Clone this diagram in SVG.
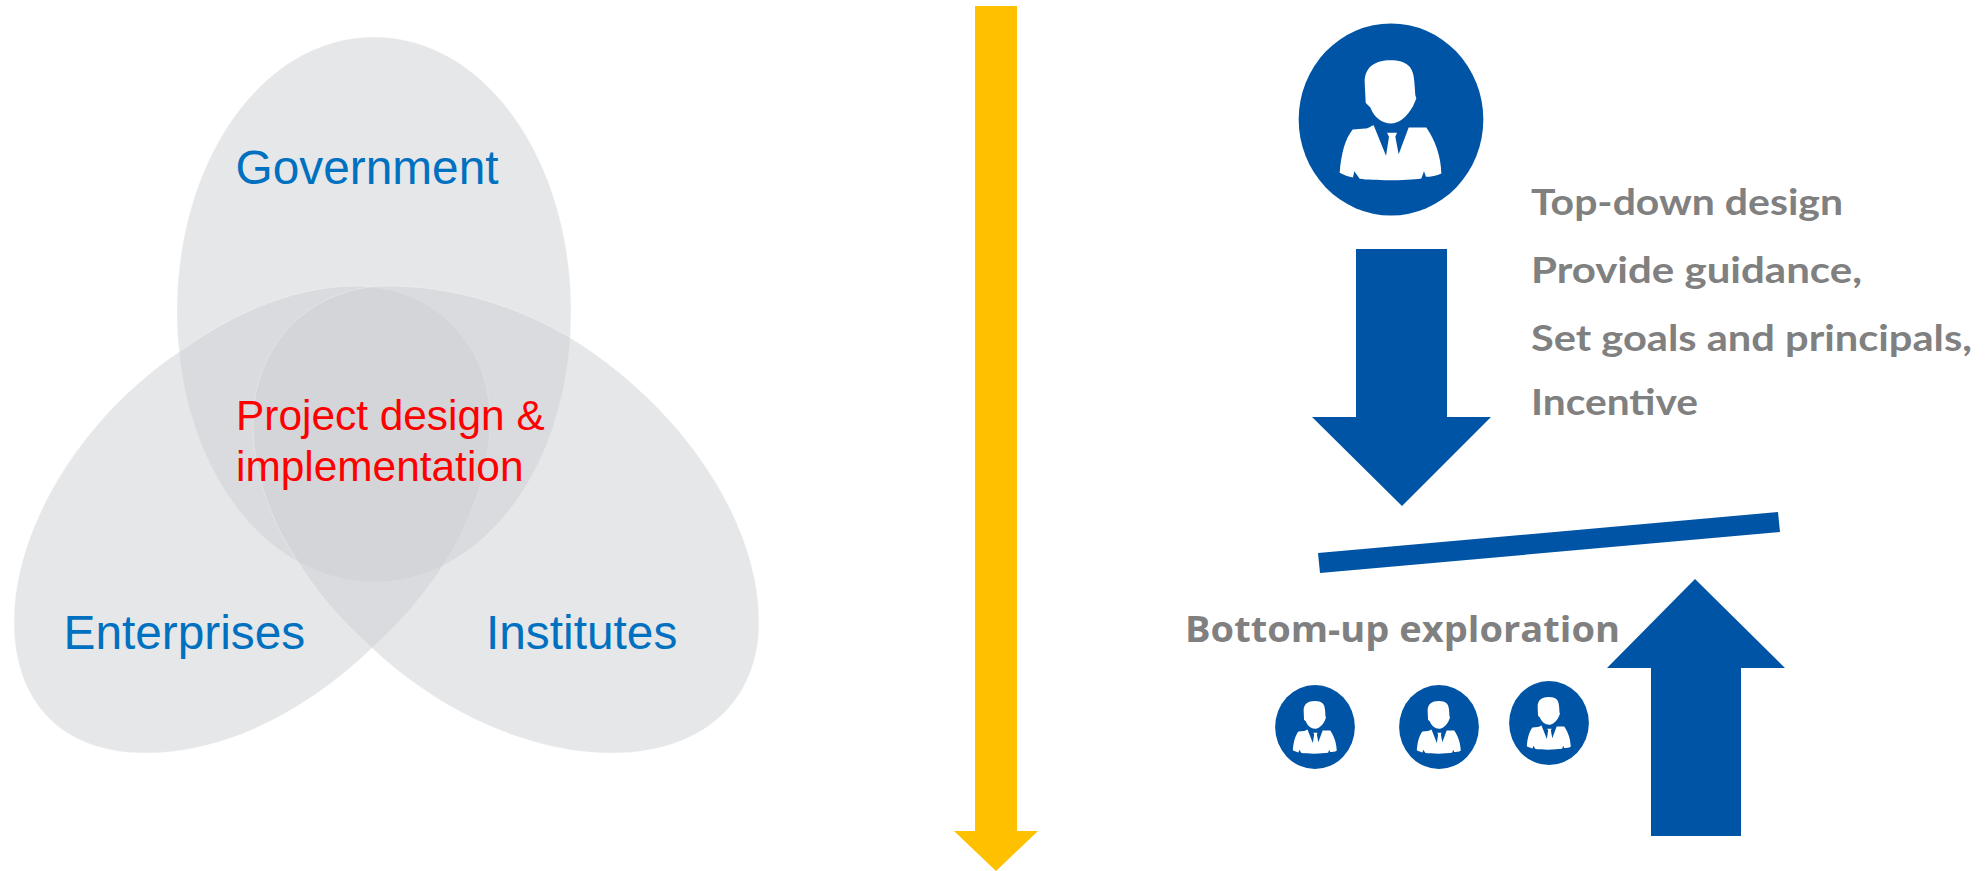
<svg xmlns="http://www.w3.org/2000/svg" width="1987" height="871" viewBox="0 0 1987 871">
<style>
.petal{fill:#cdd0d3;fill-opacity:.5;stroke:#fff;stroke-opacity:.3;stroke-width:1}
.lbl{font-family:"Liberation Sans",Arial,sans-serif;font-size:47.8px;fill:#0070c0}
.red{font-family:"Liberation Sans",Arial,sans-serif;font-size:42.4px;fill:#f00}
.blue{fill:#0054a5}
.note{font-family:Lato,"Liberation Sans",sans-serif;font-weight:700;font-size:36px;fill:#808080}
.note2{font-family:"Open Sans","Liberation Sans",sans-serif;font-weight:700;font-size:36px;fill:#808080}
</style>
<defs>
<g id="person"><ellipse rx="277" ry="288" class="blue"/><g fill="#fff" transform="translate(-332,-328)">
<path d="M253 215C253 170 285 150 330 150C380 150 400 170 402 215L405 255L408 265L398 288C380 320 355 340 332 340C305 340 280 320 270 292L256 278Z"/>
<path d="M178 488C182 430 195 385 217 358L255 355C265 355 275 345 280 345L317 437L326 380L320 368H350L345 380L355 432L385 352H438C465 390 482 440 483 490C470 497 450 500 437 500L431 483L423 505C380 512 280 512 238 506L222 483L218 502C205 500 190 495 178 488Z"/>
</g></g>
</defs>
<g id="venn">
<g id="government"><path class="petal" d="M374 37C485 37 571 160 571 311C571 470 480 582 374 582C268 582 177 470 177 311C177 160 263 37 374 37Z"/></g>
<g id="enterprises"><path class="petal" d="M357 286C430 286 490 340 490 420C490 470 470 525 444 564C422 598 397 625 372 648C305 712 225 753 145 753C60 753 14 700 14 622C14 525 85 415 179 352C235 312 295 286 357 286Z"/></g>
<g id="institutes"><path class="petal" d="M388 286C452 286 515 305 569 337C680 405 759 520 759 622C759 700 704 753 612 753C530 753 440 712 372 648C340 620 315 590 296 559C268 515 253 470 253 423C253 345 310 286 388 286Z"/></g>
<text class="lbl" x="235.500" y="184">Government</text>
<text class="lbl" x="63.500" y="649">Enterprises</text>
<text class="lbl" x="486" y="649">Institutes</text>
<text class="red" x="236" y="430">Project design &amp;</text>
<text class="red" x="236" y="481">implementation</text>
</g>
<g id="connectors">
<path id="timeline" fill="#ffc000" d="M975 6H1017V831H1038L996 871L954 831H975Z"/>
<path id="down" class="blue" d="M1356 249H1447V417H1491L1402 506L1312 417H1356Z"/>
<path id="up" class="blue" d="M1695 579L1785 668H1741V836H1651V668H1607Z"/>
<path id="bar" class="blue" d="M1318 553L1778 512L1780 532L1320 573Z"/>
</g>
<g id="leader"><use href="#person" transform="translate(1391,119.5) scale(.3333)"/></g>
<g id="staff1"><use href="#person" transform="translate(1315,727) scale(.144,.146)"/></g>
<g id="staff2"><use href="#person" transform="translate(1439,727) scale(.144,.146)"/></g>
<g id="staff3"><use href="#person" transform="translate(1549,723) scale(.144,.146)"/></g>
<g id="notes">
<text class="note" x="1531" y="215" textLength="312" lengthAdjust="spacingAndGlyphs">Top-down design</text>
<text class="note" x="1531" y="283" textLength="331" lengthAdjust="spacingAndGlyphs">Provide guidance,</text>
<text class="note" x="1531" y="351" textLength="441" lengthAdjust="spacingAndGlyphs">Set goals and principals,</text>
<text class="note" x="1531" y="415" textLength="167" lengthAdjust="spacingAndGlyphs">Incentive</text>
<text class="note2" x="1185" y="642" textLength="435" lengthAdjust="spacingAndGlyphs">Bottom-up exploration</text>
</g>
</svg>
